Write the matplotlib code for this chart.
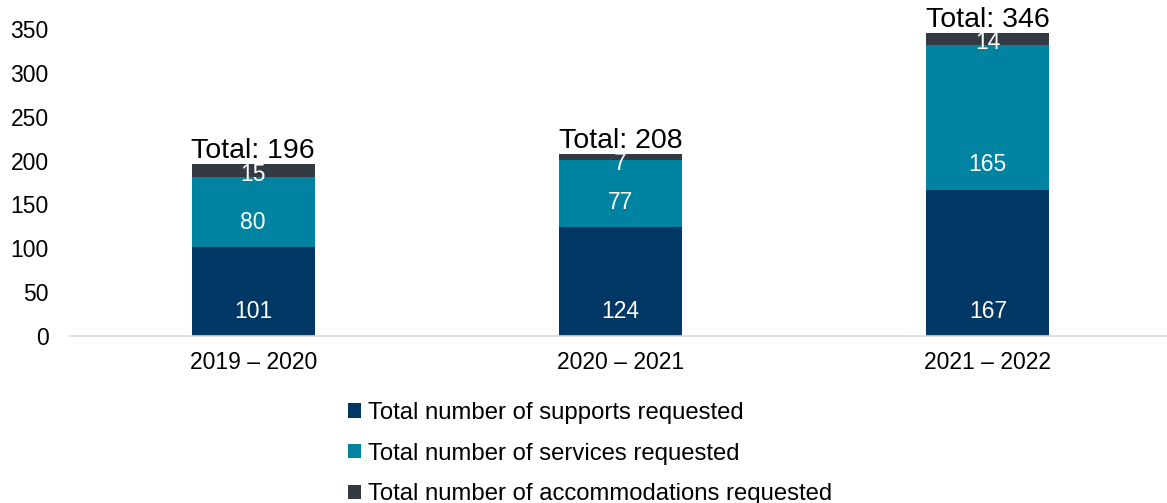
import matplotlib

matplotlib.use("Agg")
import matplotlib.pyplot as plt
import numpy as np

plt.rcParams["font.family"] = ["Liberation Sans", "DejaVu Sans"]

periods = ["2019 – 2020", "2020 – 2021", "2021 – 2022"]
supports = [101, 124, 167]
services = [80, 77, 165]
accommodations = [15, 7, 14]
totals = [196, 208, 346]

series_names = [
    "Total number of supports requested",
    "Total number of services requested",
    "Total number of accommodations requested",
]
colors = ["#003764", "#0083A1", "#343A42"]

W, H, DPI = 1167, 503, 100
fig = plt.figure(figsize=(W / DPI, H / DPI), dpi=DPI)
ax_left, ax_right = 69.5 / W, 1171.5 / W
ax_bottom, ax_top = 1 - 336 / H, 1 - 29 / H
ax = fig.add_axes([ax_left, ax_bottom, ax_right - ax_left, ax_top - ax_bottom])

ymax = 350
px_per_unit = (ax_top - ax_bottom) * H / ymax
x = np.arange(len(periods))
width = 0.335

base = np.zeros(len(periods))
for vals, name, col in zip([supports, services, accommodations], series_names, colors):
    vals = np.array(vals, dtype=float)
    ax.bar(x, vals, width, bottom=base, color=col, label=name, zorder=2)
    # labels sit near the segment base (Excel "inside base" style)
    for xi, b, v in zip(x, base, vals):
        h_px = v * px_per_unit
        off_px = min(25, h_px - 10)
        ax.annotate(f"{int(v)}", xy=(xi, b), xytext=(0, off_px * 72 / DPI),
                    textcoords="offset points", ha="center", va="center",
                    color="white", fontsize=16.5, zorder=3)
    base += vals

for xi, t in zip(x, totals):
    ax.annotate(f"Total: {t}", xy=(xi, t), xytext=(0, 0), textcoords="offset points",
                ha="center", va="bottom", fontsize=20.5, color="black",
                annotation_clip=False)

ax.set_xlim(-0.5, len(periods) - 0.5)
ax.set_ylim(0, ymax)
ax.set_yticks(range(0, 351, 50))
ax.set_xticks(x)
ax.set_xticklabels(periods)
ax.tick_params(axis="both", length=0, labelsize=16.5)
ax.tick_params(axis="y", pad=15)
ax.tick_params(axis="x", pad=11)
for s in ["top", "right", "left"]:
    ax.spines[s].set_visible(False)
ax.spines["bottom"].set_color("#d9d9d9")
ax.spines["bottom"].set_linewidth(1.2)

handles, labels = ax.get_legend_handles_labels()
fig.legend(handles, labels, loc="upper left", bbox_to_anchor=(0.298, 0.201),
           frameon=False, fontsize=17.2, ncol=1, handlelength=0.55, handleheight=0.55,
           handletextpad=0.3, labelspacing=0.78, borderpad=0, borderaxespad=0)

fig.savefig("out.png", dpi=DPI)
plt.close(fig)
